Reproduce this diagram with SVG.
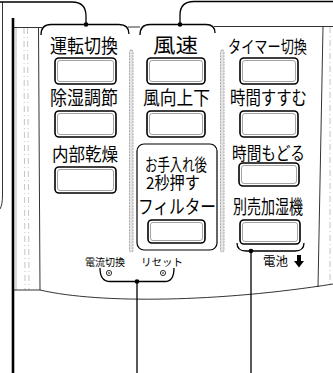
<svg xmlns="http://www.w3.org/2000/svg" width="333" height="373" viewBox="0 0 333 373">
<style>
.t{font-family:"Noto Sans CJK JP","Noto Sans",sans-serif;fill:#000;}
.ln{fill:none;stroke:#000;stroke-width:1.3;}
.thin{fill:none;stroke:#000;stroke-width:0.8;}
.gry{fill:none;stroke:#999;stroke-width:0.7;}
.dsh{fill:none;stroke:#aaa;stroke-width:0.7;stroke-dasharray:6 3 1 3;}
.btn{fill:#fff;stroke:#000;stroke-width:1.6;}
.bin{fill:none;stroke:#666;stroke-width:0.6;}
.sep{fill:#e4e4e4;stroke:#888;stroke-width:0.7;stroke-dasharray:2 1;}
.dot{fill:#000;}
</style>
<rect width="333" height="373" fill="#fff"/>
<g id="body">
<path class="thin" d="M2.5,2 L2.5,195 Q2.5,205 0,209"/>
<path class="thin" d="M13,27.5 L42,27.5 M128,27 L140,27 M214,26.5 L333,26.5"/>
<path class="gry" d="M16,28 L16,290"/>
<path class="dsh" d="M24,28 L25,290 M27.5,28 L29,290"/>
<path class="thin" d="M38.5,28 L40,290"/>
<path class="thin" d="M13,290 L40,290 C100,304 220,302 333,284"/>
<path class="thin" d="M323,26.5 L318,287"/>
<path class="dsh" d="M330,27 L330,285"/>
<rect class="sep" x="129.5" y="50" width="3.5" height="202" rx="1.7"/>
<rect class="sep" x="220.5" y="50" width="3.5" height="202" rx="1.7"/>
<rect x="137" y="144" width="80" height="106" rx="7" fill="none" stroke="#000" stroke-width="1.2"/>
</g>
<g id="connectors">
<path d="M13,18 L13,373" fill="none" stroke="#000" stroke-width="2.6"/>
<path class="ln" d="M0,2 L72,2 Q86,2 86,16 L86,24"/>
<path class="ln" d="M333,1.5 L194,1.5 Q180,1.5 180,15 L180,24"/>
<path class="ln" d="M41,35 Q41,24.5 51,24.5 L119,24.5 Q129,24.5 129,34"/>
<path class="ln" d="M140,35 Q140,24.5 150,24.5 L206,24.5 Q215,24.5 215,33"/>
<path class="ln" d="M100,268 Q100,281.5 110,281.5 L165,281.5 Q174,281.5 174,268"/>
<path class="ln" d="M237,243 Q237,251 246,251 L295,251 Q304,251 304,243"/>
<path class="ln" d="M137,282 L137,373 M251,251 L251,373"/>
<circle class="dot" cx="86" cy="24.5" r="2.3"/>
<circle class="dot" cx="180" cy="24.5" r="2.3"/>
<circle class="dot" cx="137" cy="281.5" r="2.3"/>
<circle class="dot" cx="251" cy="251" r="2.3"/>
</g>
<g id="unten">
<text class="t" x="50" y="52.5" font-size="19" textLength="68" lengthAdjust="spacingAndGlyphs">運転切換</text>
<rect class="btn" x="55" y="58" width="61" height="26" rx="4"/><rect class="bin" x="57.5" y="60.5" width="56" height="21" rx="2.5"/>
</g>
<g id="joshitsu">
<text class="t" x="50" y="104.5" font-size="19" textLength="68" lengthAdjust="spacingAndGlyphs">除湿調節</text>
<rect class="btn" x="55" y="111" width="61" height="26" rx="4"/><rect class="bin" x="57.5" y="113.5" width="56" height="21" rx="2.5"/>
</g>
<g id="naibu">
<text class="t" x="52" y="161" font-size="18" textLength="66" lengthAdjust="spacingAndGlyphs">内部乾燥</text>
<rect class="btn" x="55" y="167" width="61" height="26" rx="4"/><rect class="bin" x="57.5" y="169.5" width="56" height="21" rx="2.5"/>
</g>
<g id="fuusoku">
<text class="t" x="153" y="52.5" font-size="20" textLength="45" lengthAdjust="spacingAndGlyphs">風速</text>
<rect class="btn" x="147" y="58" width="58" height="26" rx="4"/><rect class="bin" x="149.5" y="60.5" width="53" height="21" rx="2.5"/>
</g>
<g id="fuukou">
<text class="t" x="143" y="104.5" font-size="19" textLength="67" lengthAdjust="spacingAndGlyphs">風向上下</text>
<rect class="btn" x="147" y="111" width="58" height="26" rx="4"/><rect class="bin" x="149.5" y="113.5" width="53" height="21" rx="2.5"/>
</g>
<g id="filter">
<text class="t" font-size="16.5"><tspan x="145" y="170.5" textLength="62" lengthAdjust="spacingAndGlyphs">お手入れ後</tspan><tspan x="146" y="188.5" textLength="54" lengthAdjust="spacingAndGlyphs">2秒押す</tspan></text>
<text class="t" x="138" y="214" font-size="19" textLength="78" lengthAdjust="spacingAndGlyphs">フィルター</text>
<rect class="btn" x="148" y="220" width="57" height="23" rx="4"/><rect class="bin" x="150.5" y="222.5" width="52" height="18" rx="2.5"/>
</g>
<g id="timer">
<text class="t" x="228" y="52.5" font-size="17.5" textLength="79" lengthAdjust="spacingAndGlyphs">タイマー切換</text>
<rect class="btn" x="240" y="58" width="58" height="26" rx="4"/><rect class="bin" x="242.5" y="60.5" width="53" height="21" rx="2.5"/>
</g>
<g id="susumu">
<text class="t" x="230" y="104.5" font-size="19" textLength="77" lengthAdjust="spacingAndGlyphs">時間すすむ</text>
<rect class="btn" x="240" y="111" width="58" height="26" rx="4"/><rect class="bin" x="242.5" y="113.5" width="53" height="21" rx="2.5"/>
</g>
<g id="modoru">
<text class="t" x="232" y="160" font-size="18" textLength="73" lengthAdjust="spacingAndGlyphs">時間もどる</text>
<rect class="btn" x="239" y="163" width="60" height="23" rx="4"/><rect class="bin" x="241.5" y="165.5" width="55" height="18" rx="2.5"/>
</g>
<g id="kashitsu">
<text class="t" x="233" y="214" font-size="19" textLength="70" lengthAdjust="spacingAndGlyphs">別売加湿機</text>
<rect class="btn" x="240" y="220" width="60" height="24" rx="4"/><rect class="bin" x="242.5" y="222.5" width="55" height="19" rx="2.5"/>
</g>
<g id="denryu">
<text class="t" x="85" y="266" font-size="10.5" textLength="40" lengthAdjust="spacingAndGlyphs">電流切換</text>
<circle cx="109" cy="273" r="2.6" fill="#fff" stroke="#000" stroke-width="0.8"/><circle cx="109" cy="273" r="1.2" fill="#888"/>
</g>
<g id="reset">
<text class="t" x="141" y="266" font-size="10.5" textLength="42" lengthAdjust="spacingAndGlyphs">リセット</text>
<circle cx="163" cy="273" r="2.6" fill="#fff" stroke="#000" stroke-width="0.8"/><circle cx="163" cy="273" r="1.2" fill="#888"/>
</g>
<g id="denchi">
<text class="t" x="263" y="266" font-size="12" textLength="25" lengthAdjust="spacingAndGlyphs">電池</text>
<path d="M297,255 L301,255 L301,261 L304,261 L299,267.5 L294,261 L297,261 Z" fill="#000"/>
</g>
</svg>
